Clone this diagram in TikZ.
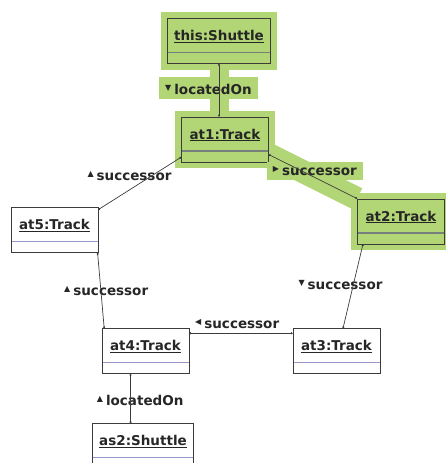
\documentclass[tikz,border=0pt]{standalone}
\usepackage{fontspec}
\setmainfont{DejaVu Sans}
\usetikzlibrary{arrows.meta,fit,backgrounds}

\definecolor{hlgreen}{RGB}{178,214,118}
\definecolor{boxline}{RGB}{60,60,60}
\definecolor{sepblue}{RGB}{150,150,200}
\definecolor{sepgray}{RGB}{118,126,126}

\tikzset{
  obj/.style={draw=boxline, line width=0.8pt, minimum width=87pt, minimum height=45pt,
    inner xsep=7pt, inner ysep=0pt, text height=22pt, text depth=23pt,
    font=\fontsize{13.5}{16}\selectfont\bfseries, text=black!85,
    path picture={\draw[#1, line width=1.3pt]
      ([yshift=11pt]path picture bounding box.south west) --
      ([yshift=11pt]path picture bounding box.south east);}},
  obj/.default=sepblue,
  lbl/.style={anchor=west, inner xsep=6pt, inner ysep=4pt, text height=13pt, text depth=1pt,
    font=\fontsize{13.5}{16}\selectfont\bfseries, text=black!85},
  assoc/.style={draw=boxline, line width=0.7pt, {Circle[length=2pt]}-{Circle[length=2pt]}},
  band/.style={draw=hlgreen, line width=#1},
  band/.default=19pt,
  hlbox/.style={fill=hlgreen, inner sep=6pt}
}
\newcommand{\tri}[1]{\raisebox{4pt}{\fontsize{8}{8}\selectfont #1}\hspace{3pt}}

\begin{document}
\begin{tikzpicture}[x=1pt,y=-1pt]
\clip (0,0) rectangle (445,463);
% objects
\node[obj=sepgray] (this) at (219,41) {\underline{this:Shuttle}};
\node[obj=sepgray] (at1) at (225,139.5) {\underline{at1:Track}};
\node[obj=sepgray] (at2) at (401,221.5) {\underline{at2:Track}};
\node[obj] (at5) at (54.5,230) {\underline{at5:Track}};
\node[obj] (at4) at (145.5,351) {\underline{at4:Track}};
\node[obj] (at3) at (336.5,351) {\underline{at3:Track}};
\node[obj] (as2) at (143,446) {\underline{as2:Shuttle}};
%
% role names
\node[lbl, fill=hlgreen] (lon1) at (159,88) {\tri{▼}locatedOn};
\node[lbl, fill=hlgreen, text height=9pt] (suc12) at (266.7,171) {\tri{▶}successor};
\node[lbl] (suc51) at (81.3,174.7) {\tri{▲}successor};
\node[lbl] (suc54) at (58,289) {\tri{▲}successor};
\node[lbl] (suc23) at (292.3,283.3) {\tri{▼}successor};
\node[lbl] (suc43) at (189,322.3) {\tri{◀}successor};
\node[lbl] (lon4) at (90.7,399) {\tri{▲}locatedOn};
%
% links
\draw[assoc] (this.south) -- (this.south |- at1.north);
\draw[assoc] (at1.-19) -- (at2.north west);
\draw[assoc] (at1.202) -- (at5.25);
\draw[assoc] (at5.-28) -- (at4.151);
\draw[assoc] (at4.22) -- (at3.158);
\draw[assoc] (at2.211) -- (at3.74);
\draw[assoc] ([xshift=-15pt]at4.south) -- ([xshift=-15pt]at4.south |- as2.north);
%
% highlight
\begin{scope}[on background layer]
\node[hlbox, fit=(this)] (hlthis) {};
\node[hlbox, fit=(at1)] (hlat1) {};
\node[hlbox, fit=(at2)] (hlat2) {};
\draw[band] (this.south) -- (this.south |- at1.north);
\draw[band=23pt] (at1.-19) -- (at2.north west);
\end{scope}
\end{tikzpicture}
\end{document}
